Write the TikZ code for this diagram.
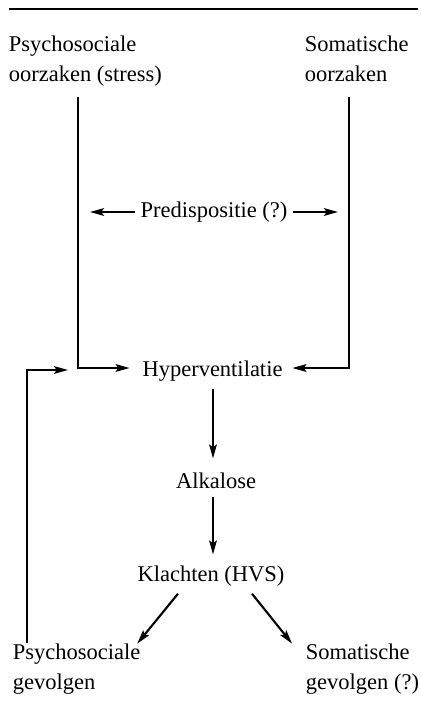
\documentclass[tikz,border=0pt]{standalone}
\usepackage{fontspec}
\setmainfont{Liberation Serif}
\usetikzlibrary{arrows.meta, positioning}

\begin{document}
\begin{tikzpicture}[x=0.025cm, y=-0.025cm, line width=1.3pt,
	every node/.style={inner sep=0pt, font=\fontsize{16}{21.3}\selectfont},
	arr/.style={-{Stealth[length=10pt,width=5.5pt,inset=2pt]}}]
	\useasboundingbox (0,0) rectangle (421,726);
	\draw[line width=1.6pt] (9,9) -- (418,9);
	% oorzaken
	\node (psyoorz) [anchor=north west, align=left] at (8,34.6) {Psychosociale\\oorzaken (stress)};
	\node (somoorz) [anchor=north west, align=left] at (304,34.6) {Somatische\\oorzaken};
	% midden
	\node (predisp) [anchor=base] at (214,217) {Predispositie (?)};
	\node (hyperv) [anchor=base] at (212.5,376) {Hyperventilatie};
	\node (alkalose) [anchor=base] at (216,488) {Alkalose};
	\node (klachten) [anchor=base] at (211,581) {Klachten (HVS)};
	% gevolgen
	\node (psygev) [anchor=north west, align=left] at (12,642.6) {Psychosociale\\gevolgen};
	\node (somgev) [anchor=north west, align=left] at (305,642.6) {Somatische\\gevolgen (?)};
	\coordinate (lt) at (78,97);
	\coordinate (lb) at (78,368);
	\coordinate (rt) at (349,97);
	\coordinate (rb) at (349,368);
	\coordinate (pl) at (90,212);
	\coordinate (pr) at (338,212);
	\coordinate (fb) at (27,370);
	\coordinate (fbend) at (68,370);
	\draw[arr, shorten >=0.3cm] (lt) -- (lb) -- (lb -| hyperv.west);
	\draw[arr, shorten >=0.225cm] (rt) -- (rb) -- (rb -| hyperv.east);
	\draw[arr, shorten <=0.125cm] (predisp.west |- pl) -- (pl);
	\draw[arr, shorten <=0.125cm] (predisp.east |- pr) -- (pr);
	\draw[arr, shorten <=0.175cm, shorten >=0.325cm] (hyperv.south -| 213,0) -- (alkalose.north -| 213,0);
	\draw[arr, shorten <=0.2cm, shorten >=0.25cm] (alkalose.south -| 213,0) -- (klachten.north -| 213,0);
	\draw[arr, line width=1.5pt] ([shift={(-33,7)}]klachten.south) -- ([shift={(-4,1)}]psygev.north east);
	\draw[arr, line width=1.5pt] ([shift={(41,7)}]klachten.south) -- ([shift={(-13,1)}]somgev.north west);
	\draw[arr] (fb |- psygev.north) -- (fb) -- (fbend);
\end{tikzpicture}
\end{document}
